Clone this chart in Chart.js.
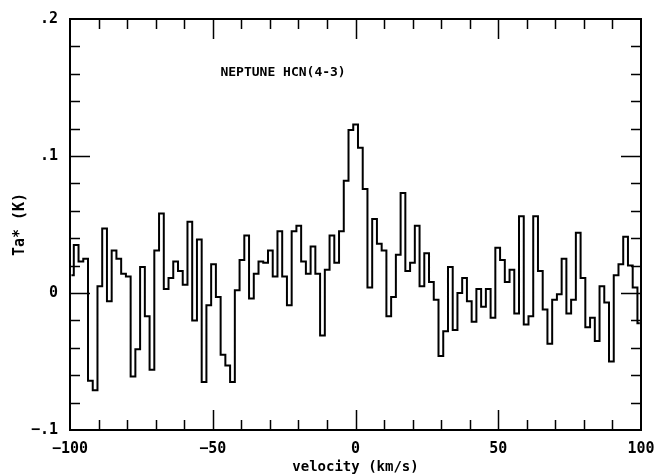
<!DOCTYPE html>
<html>
<head>
<meta charset="utf-8">
<script src="https://cdn.jsdelivr.net/npm/chart.js@4"></script>
<style>
  html, body { margin: 0; padding: 0; background: #fff; }
  #wrap { width: 659px; height: 474px; }
</style>
</head>
<body>
<div id="wrap"><canvas id="spec" width="659" height="474"></canvas></div>
<script>
// Neptune HCN(4-3) spectrum, Ta* (K) per channel
const taK = [
  0.013, 0.035, 0.023, 0.025, -0.064, -0.071, 0.005, 0.047, -0.006, 0.031,
  0.025, 0.014, 0.012, -0.061, -0.041, 0.019, -0.017, -0.056, 0.031, 0.058,
  0.003, 0.011, 0.023, 0.016, 0.006, 0.052, -0.020, 0.039, -0.065, -0.009,
  0.021, -0.003, -0.045, -0.053, -0.065, 0.002, 0.024, 0.042, -0.004, 0.014,
  0.023, 0.022, 0.031, 0.012, 0.045, 0.012, -0.009, 0.045, 0.049, 0.023,
  0.014, 0.034, 0.014, -0.031, 0.017, 0.042, 0.022, 0.045, 0.082, 0.119,
  0.123, 0.106, 0.076, 0.004, 0.054, 0.036, 0.031, -0.017, -0.003, 0.028,
  0.073, 0.016, 0.022, 0.049, 0.005, 0.029, 0.008, -0.005, -0.046, -0.028,
  0.019, -0.027, 0.000, 0.011, -0.006, -0.021, 0.003, -0.010, 0.003, -0.018,
  0.033, 0.024, 0.008, 0.017, -0.015, 0.056, -0.023, -0.017, 0.056, 0.016,
  -0.012, -0.037, -0.005, -0.001, 0.025, -0.015, -0.005, 0.044, 0.011, -0.025,
  -0.018, -0.035, 0.005, -0.007, -0.050, 0.013, 0.021, 0.041, 0.020, 0.004,
  -0.022
];
// channel grid (km/s): first channel centre and channel width
const firstChannel = -99.5;
const channelWidth = 1.659;
const velocity = taK.map((_, i) => firstChannel + i * channelWidth);

const xTicksMajor = [-100, -50, 0, 50, 100];
const yTickLabels = { '0.2': '.2', '0.1': '.1', '0': '0', '-0.1': '\u2212.1' };
const plotTitle = 'NEPTUNE HCN(4-3)';

const monoFont = '"DejaVu Sans Mono", "Liberation Mono", monospace';

// frame with inward ticks on all four sides + label inside the plot
const framePlugin = {
    id: 'frame',
    afterDatasetsDraw(chart) {
        const { ctx, chartArea: a, scales: { x, y } } = chart;
        ctx.save();
        ctx.strokeStyle = '#000';
        ctx.lineWidth = 1.5;
        for (let v = -90; v <= 90; v += 10) {
            const px = Math.round(x.getPixelForValue(v)) + 0.5;
            const len = v % 50 === 0 ? 20 : 10;
            ctx.beginPath();
            ctx.moveTo(px, a.bottom); ctx.lineTo(px, a.bottom - len);
            ctx.moveTo(px, a.top); ctx.lineTo(px, a.top + len);
            ctx.stroke();
        }
        for (let k = -4; k <= 9; k++) {
            const v = k * 0.02;
            const py = Math.round(y.getPixelForValue(v)) + 0.5;
            const len = k % 5 === 0 ? 20 : 10;
            ctx.beginPath();
            ctx.moveTo(a.left, py); ctx.lineTo(a.left + len, py);
            ctx.moveTo(a.right, py); ctx.lineTo(a.right - len, py);
            ctx.stroke();
        }
        ctx.lineWidth = 2;
        ctx.strokeRect(a.left, a.top, a.right - a.left, a.bottom - a.top);

        ctx.fillStyle = '#000';
        ctx.font = 'bold 13px ' + monoFont;
        ctx.textAlign = 'left';
        ctx.textBaseline = 'middle';
        ctx.fillText(plotTitle, x.getPixelForValue(-47.3), y.getPixelForValue(0.161));
        ctx.restore();
    }
};

new Chart(document.getElementById('spec').getContext('2d'), {
    type: 'line',
    data: {
        datasets: [{
            data: velocity.map((v, i) => ({ x: v, y: taK[i] })),
            borderColor: '#000',
            borderWidth: 2,
            pointRadius: 0,
            stepped: 'middle',
            fill: false
        }]
    },
    options: {
        responsive: false,
        animation: false,
        layout: { padding: { top: 19, right: 18, bottom: 0, left: 0 } },
        plugins: {
            legend: { display: false },
            tooltip: { enabled: false }
        },
        scales: {
            x: {
                type: 'linear',
                min: -100, max: 100,
                afterFit: s => { s.height = 44; s.paddingLeft = 0; s.paddingRight = 0; },
                afterBuildTicks: s => { s.ticks = xTicksMajor.map(v => ({ value: v })); },
                grid: { display: false, drawTicks: false },
                border: { display: false },
                ticks: {
                    color: '#000',
                    padding: 10,
                    autoSkip: false,
                    maxRotation: 0,
                    font: { family: monoFont, size: 15, weight: 'bold' },
                    callback: v => String(v).replace('-', '\u2212')
                },
                title: {
                    display: true,
                    text: 'velocity (km/s)',
                    color: '#000',
                    padding: 0,
                    font: { family: monoFont, size: 14, weight: 'bold', lineHeight: 1 }
                }
            },
            y: {
                min: -0.1, max: 0.2,
                afterFit: s => { s.width = 70; s.paddingTop = 0; s.paddingBottom = 0; },
                grid: { display: false, drawTicks: false },
                border: { display: false },
                ticks: {
                    color: '#000',
                    padding: 12,
                    stepSize: 0.1,
                    font: { family: monoFont, size: 15, weight: 'bold' },
                    callback: v => yTickLabels[String(Math.round(v * 10) / 10)]
                },
                title: {
                    display: true,
                    text: 'Ta* (K)',
                    color: '#000',
                    padding: { top: 13 },
                    font: { family: monoFont, size: 15, weight: 'bold', lineHeight: 1 }
                }
            }
        }
    },
    plugins: [framePlugin]
});
</script>
</body>
</html>
